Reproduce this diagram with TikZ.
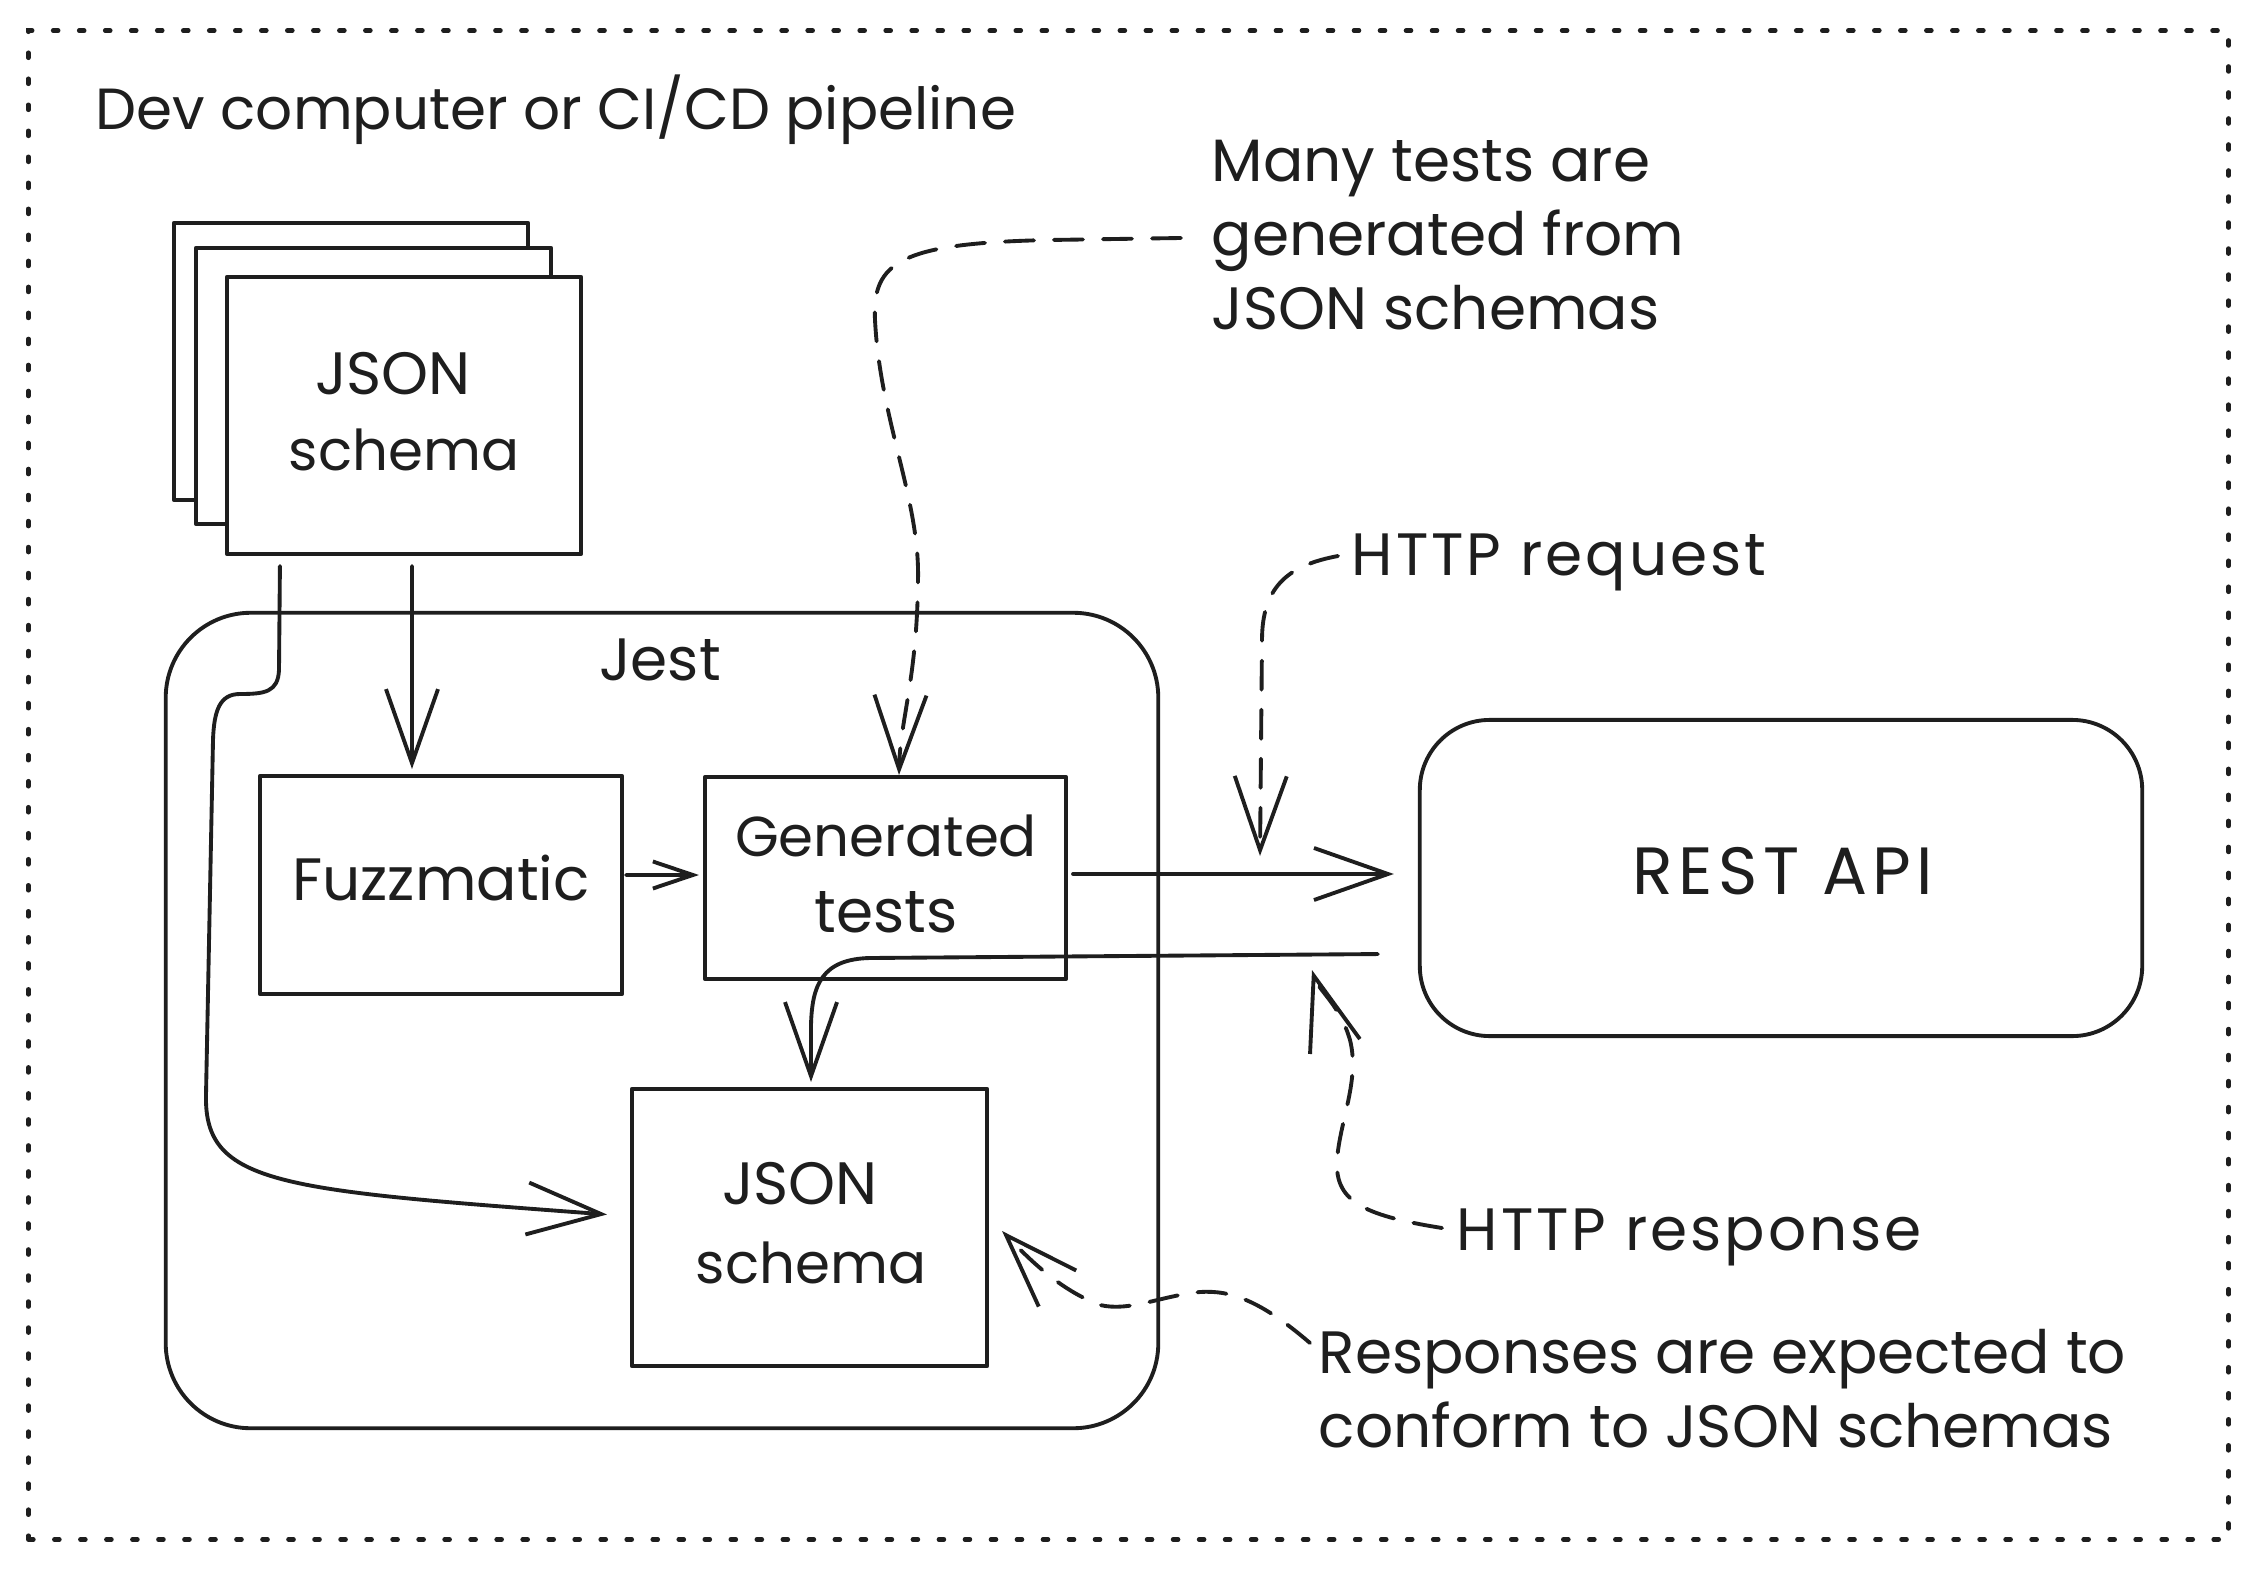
\documentclass[tikz,border=0pt]{standalone}
\usepackage{fontspec}
\setmainfont{Poppins}
\usetikzlibrary{arrows.meta,calc}
\definecolor{ink}{HTML}{1E1E1E}
\begin{document}
\begin{tikzpicture}[x=0.01cm,y=-0.01cm,
  line/.style={draw=ink, line width=1.1pt, line cap=round, line join=round},
  box/.style={line, rectangle, inner sep=0pt, fill=white},
  arr/.style={line, -{Straight Barb[length=0.74cm,width=0.52cm]}},
  arrs/.style={line, -{Straight Barb[length=0.4cm,width=0.27cm]}},
  darr/.style={arr, dash pattern=on 0.29cm off 0.2cm},
  frame/.style={draw=ink, line width=1.3pt, line cap=round, dash pattern=on 0.05cm off 0.21cm, rectangle, inner sep=0pt},
  txt/.style={font=\fontsize{17}{22}\selectfont, text=ink, inner sep=0pt},
  lbl/.style={txt, font=\fontsize{16}{22}\selectfont},
  wide/.style={txt, font=\fontsize{17}{22}\selectfont\addfontfeatures{LetterSpace=5}},
  big/.style={txt, font=\fontsize{19}{22}\selectfont\addfontfeatures{LetterSpace=8}},
  ttl/.style={font=\fontsize{16.5}{20}\selectfont, text=ink, inner sep=0pt}]
\useasboundingbox (0,0) rectangle (2258,1570);
\fill[white] (0,0) rectangle (2258,1570);

% outer frame
\node[frame, minimum width=21.99cm, minimum height=15.08cm] (outer) at (1128.5,785) {};
\node[ttl, anchor=base west] (title) at (95,130) {Dev computer or CI/CD pipeline};

% stacked documents
\node[box, minimum width=3.54cm, minimum height=2.77cm] (doc1) at (351,361.5) {};
\node[box, minimum width=3.55cm, minimum height=2.76cm] (doc2) at (373.5,386) {};
\node[box, minimum width=3.54cm, minimum height=2.77cm] (doc3) at (404,415.5) {};
\node[txt, anchor=base] (doc3a) at (393,394) {JSON};
\node[lbl, anchor=base] (doc3b) at (404,470) {schema};

% Jest container
\node[line, rectangle, rounded corners=0.85cm, inner sep=0pt, minimum width=9.92cm, minimum height=8.15cm] (jest) at (662,1020.5) {};
\node[txt, anchor=base] (jestlbl) at (660,680) {Jest};

% inner boxes
\node[box, minimum width=3.62cm, minimum height=2.18cm] (fuzz) at (441,885) {};
\node[txt, anchor=base] (fuzzlbl) at (441,900) {Fuzzmatic};
\node[box, minimum width=3.61cm, minimum height=2.02cm] (gen) at (885.5,878) {};
\node[lbl, anchor=base] (gena) at (886,856) {Generated};
\node[txt, anchor=base] (genb) at (886,932) {tests};
\node[box, minimum width=3.55cm, minimum height=2.77cm] (json2) at (809.5,1227.5) {};
\node[txt, anchor=base] (json2a) at (800,1204) {JSON};
\node[lbl, anchor=base] (json2b) at (811,1283) {schema};

% REST API
\node[box, rounded corners=0.7cm, minimum width=7.22cm, minimum height=3.16cm] (rest) at (1781,878) {};
\node[big, anchor=base] (restlbl) at (1783,894) {REST API};

% annotations
\node[txt, anchor=base west] (many1) at (1211,182) {Many tests are};
\node[txt, anchor=base west] (many2) at (1211,256) {generated from};
\node[txt, anchor=base west] (many3) at (1211,330) {JSON schemas};
\node[wide, anchor=base west] (req) at (1351,575) {HTTP request};
\node[wide, anchor=base west] (resp) at (1456,1250) {HTTP response};
\node[txt, anchor=base west] (conf1) at (1318,1373) {Responses are expected to};
\node[txt, anchor=base west] (conf2) at (1318,1447) {conform to JSON schemas};

\coordinate (manytail) at (1181,238);
\coordinate (reqtail) at (1338,556);
\coordinate (reqtip) at (1260,856);
\coordinate (resptail) at (1442,1228);
\coordinate (resptip) at (1312,970);
\coordinate (conftail) at (1310,1343);

% solid connectors
\draw[arr] ([xshift=0.08cm,yshift=-0.1cm]doc3.south) -- ([xshift=-0.29cm,yshift=0.05cm]fuzz.north);
\draw[arr] ([xshift=-1.24cm,yshift=-0.1cm]doc3.south) -- (279,670)
  .. controls (278,692) and (265,694) .. (240,694)
  .. controls (220,694) and (214,710) .. (213,740) -- (206,1095)
  .. controls (204,1185) and (280,1190) .. ([xshift=-0.23cm,yshift=0.13cm]json2.west);
\draw[arrs] ([xshift=0.02cm,yshift=0.1cm]fuzz.east) -- ([xshift=-0.04cm,yshift=0.03cm]gen.west);
\draw[arr] ([xshift=0.05cm,yshift=0.04cm]gen.east) -- ([xshift=-0.24cm,yshift=0.04cm]rest.west);
\draw[arr] ([xshift=-0.4cm,yshift=-0.76cm]rest.west) -- (870,958)
  .. controls (822,959) and (812,985) .. (811,1025) -- ([xshift=0.015cm,yshift=0.05cm]json2.north);

% dashed connectors
\draw[darr] (manytail) -- (1050,240) .. controls (900,243) and (872,262) .. (875,320)
  .. controls (880,420) and (920,500) .. (918,580)
  .. controls (917,680) and (900,720) .. ([xshift=0.135cm]gen.north);
\draw[darr] (reqtail) .. controls (1290,565) and (1262,585) .. (1262,640) -- (reqtip);
\draw[darr] (resptail) .. controls (1360,1215) and (1335,1200) .. (1337,1160)
  .. controls (1340,1120) and (1360,1080) .. (1350,1040)
  .. controls (1340,1005) and (1318,990) .. (resptip);
\draw[darr] (conftail) .. controls (1260,1300) and (1230,1290) .. (1200,1292)
  .. controls (1160,1296) and (1130,1312) .. (1100,1305)
  .. controls (1060,1290) and (1030,1260) .. ([xshift=0.13cm,yshift=-0.035cm]json2.east);
\end{tikzpicture}
\end{document}
